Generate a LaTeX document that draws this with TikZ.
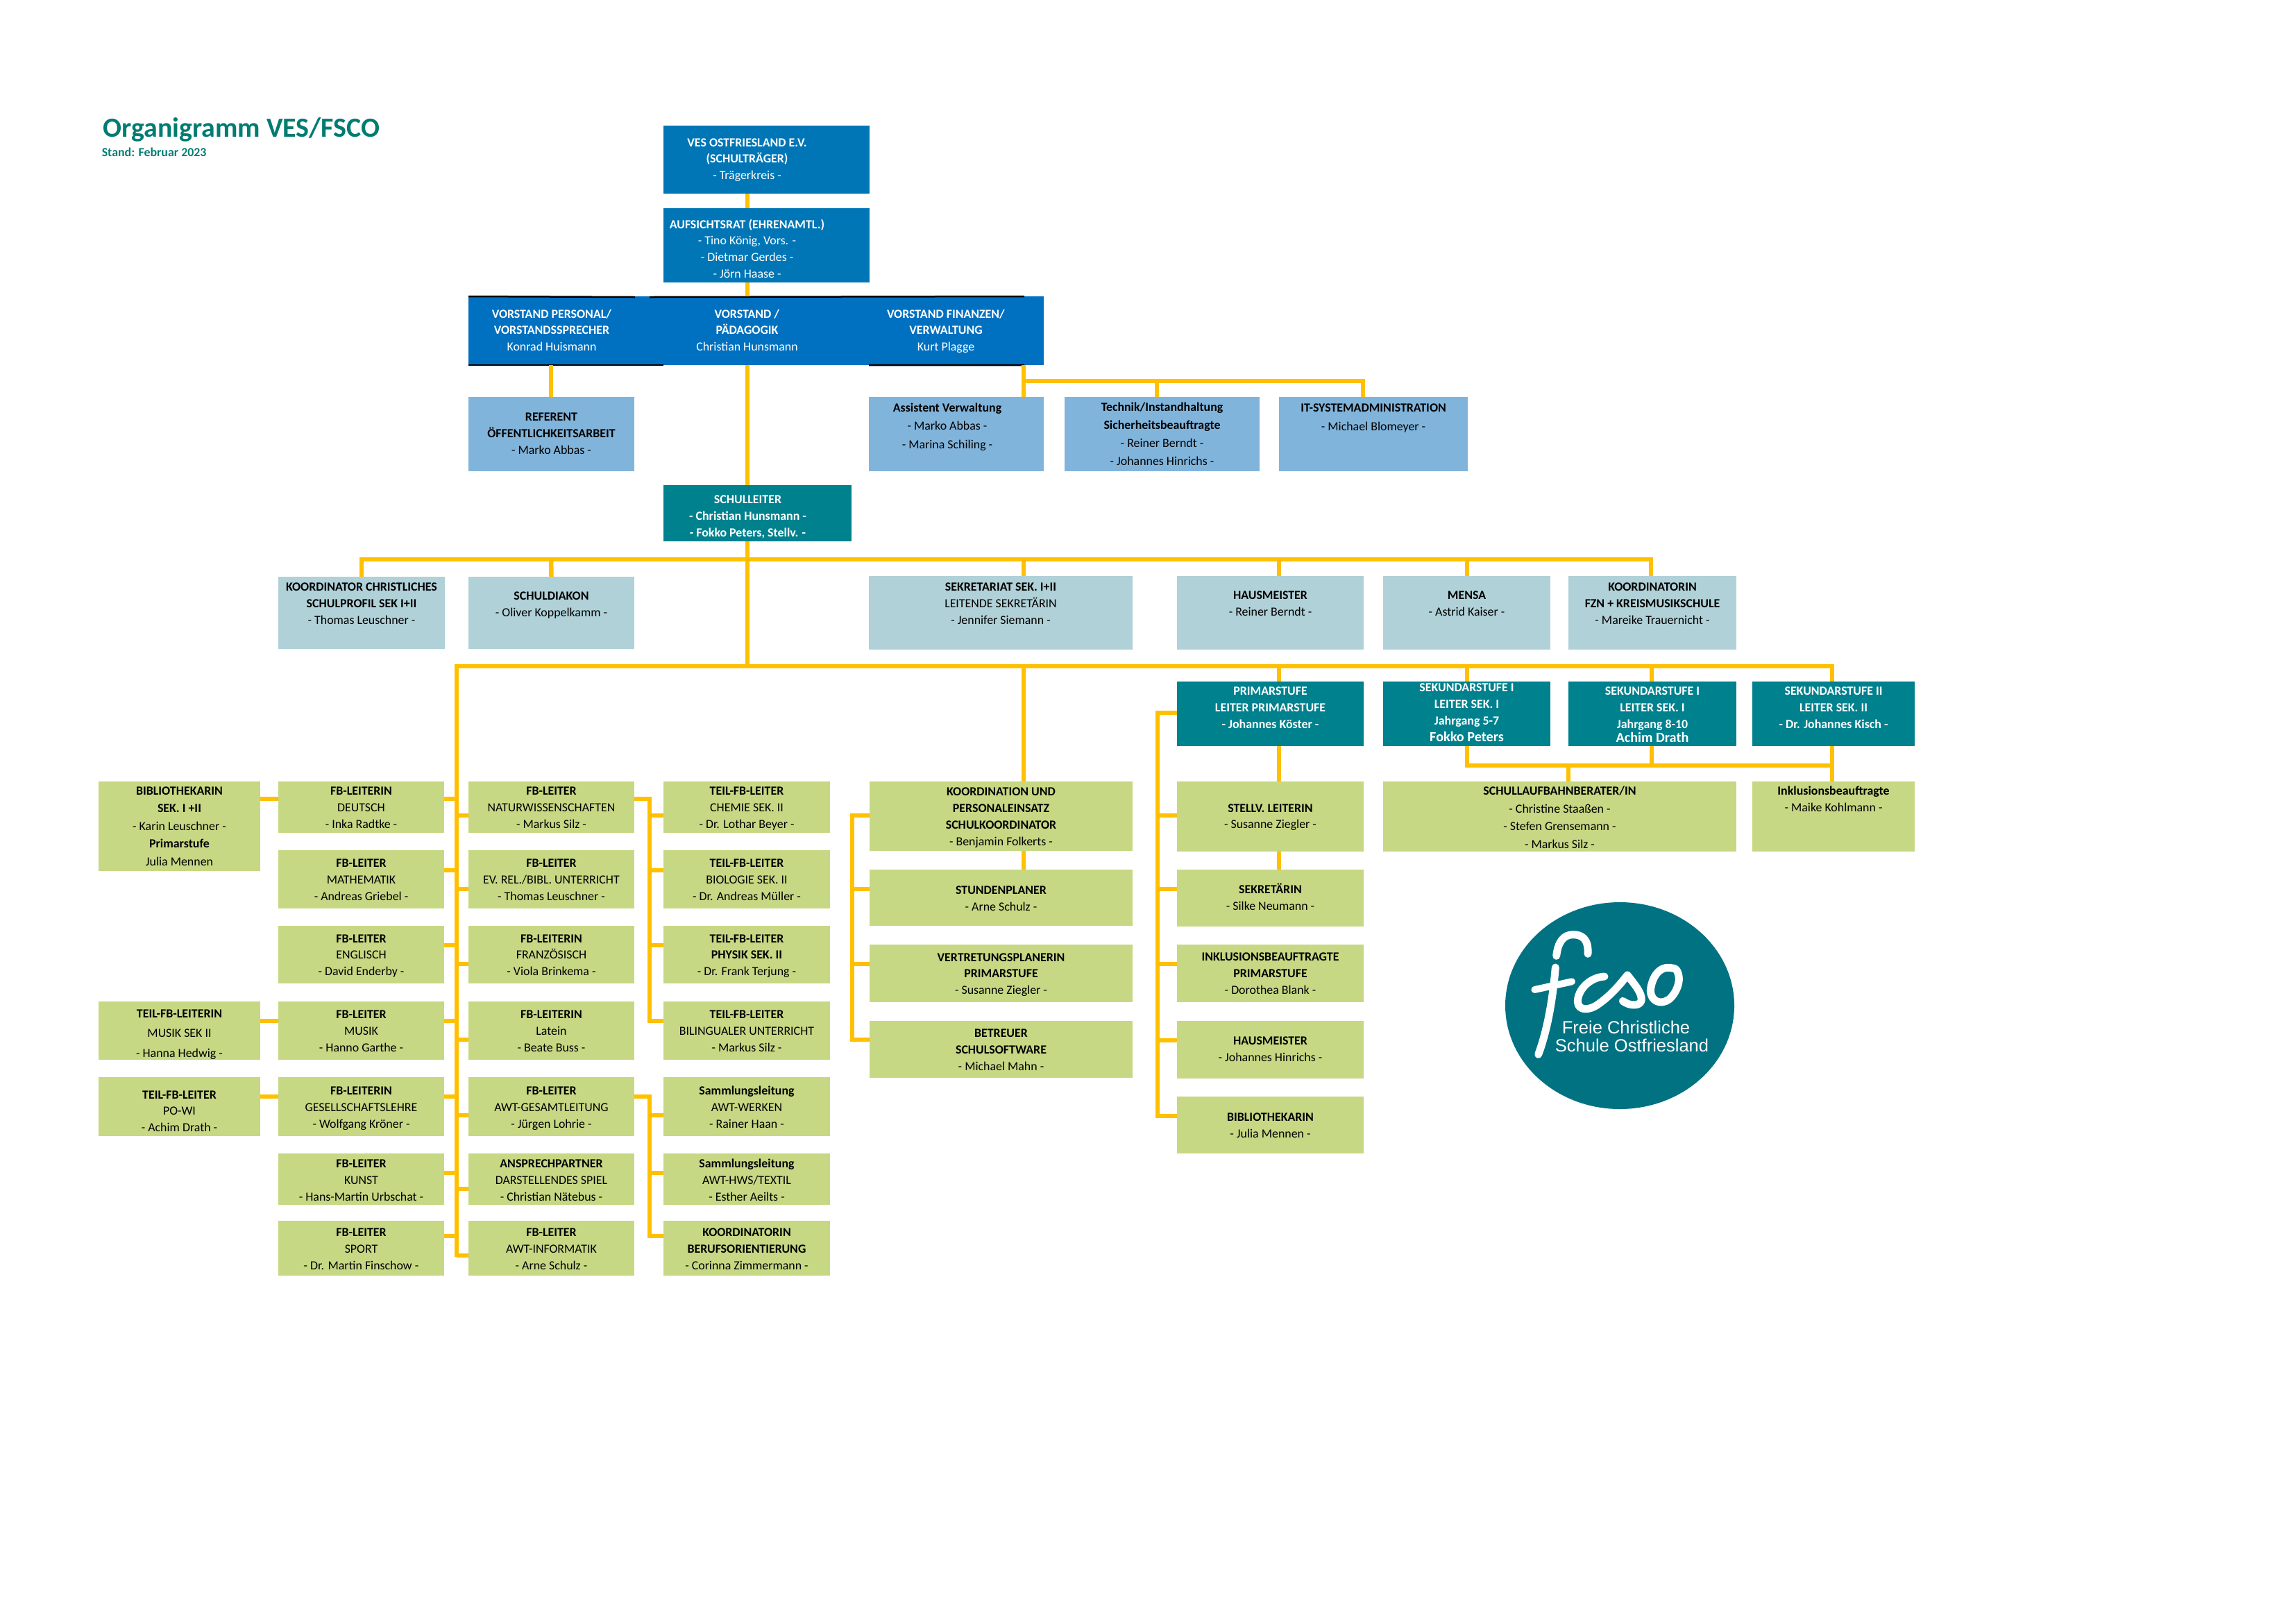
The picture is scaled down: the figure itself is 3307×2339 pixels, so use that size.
\documentclass[tikz,border=0pt]{standalone}
\usepackage{fontspec}
\usetikzlibrary{shapes.geometric}
\setmainfont{Carlito}
\newfontfamily\logofont{Liberation Sans}
\newlength\upx \setlength\upx{0.25462pt}
\definecolor{vesblue}{HTML}{0076B6}
\definecolor{vorblue}{HTML}{0070C0}
\definecolor{teal}{HTML}{00818E}
\definecolor{lblue}{HTML}{81B4DB}
\definecolor{pale}{HTML}{B0D1D8}
\definecolor{lgreen}{HTML}{C6D883}
\definecolor{connc}{HTML}{FFC000}
\definecolor{titlec}{HTML}{007C72}
\definecolor{logoc}{HTML}{007282}
\tikzset{
 boxves/.style={fill=vesblue,text=white},
 boxvor/.style={fill=vorblue,text=white},
 boxteal/.style={fill=teal,text=white},
 boxlb/.style={fill=lblue,text=black},
 boxpale/.style={fill=pale,text=black},
 boxgreen/.style={fill=lgreen,text=black},
 conn/.style={draw=connc,line width=6.5*0.25462pt},
 blackedge/.style={draw=black,line width=2.5*0.25462pt},
 logostroke/.style={draw=white,line cap=round,line join=round,line width=11*0.25462pt},
}
\def\bxgeom#1,#2,#3,#4;{\def\xa{#1}\def\ya{#2}\def\xb{#3}\def\yb{#4}}
\def\bxtext#1,#2;{\def\bfirst{#1}\def\bskip{#2}}
\def\fs{4.55}
% \bx[text x offset]{name}{style}{x1,y1,x2,y2}{first baseline,line distance}{lines}
\newcommand\bx[6][0]{%
 \bxgeom#4;\bxtext#5;%
 \node[#3,anchor=north west,inner sep=0pt,outer sep=0pt] (#2) at (\xa,\ya) {%
  \vbox to \dimexpr\yb\upx-\ya\upx\relax{%
   \hsize=\dimexpr\xb\upx-\xa\upx\relax
   \parindent=0pt \parskip=0pt \lineskiplimit=-100pt \lineskip=0pt
   \fontsize{\fs}{6}\selectfont
   \baselineskip=\bskip\upx
   \centering
   \leftskip=\dimexpr 2\dimexpr#1\upx\relax\relax plus 1fil
   \kern\dimexpr\bfirst\upx-\ya\upx-\dimexpr\bskip\upx\relax*7/10\relax
   \rule[\dimexpr-\dimexpr\bskip\upx\relax*3/10\relax]{0pt}{\bskip\upx}#6\par
   \vss}};}
\newcommand\B[1]{\textbf{#1}}
\newcommand\hs[3]{\draw[conn] (#1.east |- 0,#3) -- (#2.west |- 0,#3);}
\newcommand\vs[3]{\draw[conn] (#3,0 |- #1.south) -- (#3,0 |- #2.north);}
\begin{document}
\begin{tikzpicture}[x=0.25462pt,y=-0.25462pt]
\useasboundingbox (0,0) rectangle (3307,2339);
% title
\node[anchor=base west,inner sep=0pt,text=titlec,font=\fontsize{10.15}{12}\selectfont\bfseries] (title) at (148,197) {Organigramm VES/FSCO};
\node[anchor=base west,inner sep=0pt,text=titlec,font=\fontsize{4.55}{6}\selectfont\bfseries] (stand) at (146,225) {Stand: Februar 2023};
% top
\bx[-28]{ves}{boxves}{956,181,1253,279}{211,23.6}{\B{VES OSTFRIESLAND E.V.}\\\B{(SCHULTRÄGER)}\\- Trägerkreis -}
\bx[-28]{ar}{boxves}{956,300,1253,407}{329,23.8}{\B{AUFSICHTSRAT (EHRENAMTL.)}\\- Tino König, Vors. -\\- Dietmar Gerdes -\\- Jörn Haase -}
\bx[-21]{vp}{boxvor}{675,427,957,526}{458,23.5}{\B{VORSTAND PERSONAL/}\\\B{VORSTANDSSPRECHER}\\Konrad Huismann}
\bx[-28]{vd}{boxvor}{956,427,1253,526}{458,23.5}{\B{VORSTAND /}\\\B{PÄDAGOGIK}\\Christian Hunsmann}
\bx[-15]{vf}{boxvor}{1252,427,1504,526}{458,23.5}{\B{VORSTAND FINANZEN/}\\\B{VERWALTUNG}\\Kurt Plagge}
\bx{ref}{boxlb}{675,572,914,679}{606.5,24}{\B{REFERENT}\\\B{ÖFFENTLICHKEITSARBEIT}\\- Marko Abbas -}
\bx[-13]{asst}{boxlb}{1252,572,1504,679}{593,26.5}{\B{Assistent Verwaltung}\\- Marko Abbas -\\- Marina Schiling -}
\bx{tech}{boxlb}{1534,572,1815,679}{592,26.3}{\B{Technik/Instandhaltung}\\\B{Sicherheitsbeauftragte}\\- Reiner Berndt -\\- Johannes Hinrichs -}
\bx{its}{boxlb}{1843,572,2115,679}{593,27.5}{\B{IT-SYSTEMADMINISTRATION}\\- Michael Blomeyer -}
\bx[-14]{sl}{boxteal}{956,699,1227,780}{725,24}{\B{SCHULLEITER}\\\B{- Christian Hunsmann -}\\\B{- Fokko Peters, Stellv. -}}
% row 2
\bx{kc}{boxpale}{401,831,641,935}{851,24}{\B{KOORDINATOR CHRISTLICHES}\\\B{SCHULPROFIL SEK I+II}\\- Thomas Leuschner -}
\bx{sd}{boxpale}{675,831,914,935}{864,24}{\B{SCHULDIAKON}\\- Oliver Koppelkamm -}
\bx{sek}{boxpale}{1252,830,1632,936}{851,24}{\B{SEKRETARIAT SEK. I+II}\\LEITENDE SEKRETÄRIN\\- Jennifer Siemann -}
\bx{hm}{boxpale}{1696,830,1965,936}{863,24.5}{\B{HAUSMEISTER}\\- Reiner Berndt -}
\bx{me}{boxpale}{1993,830,2234,936}{863,24.5}{\B{MENSA}\\- Astrid Kaiser -}
\bx{fzn}{boxpale}{2260,830,2502,936}{851,24}{\B{KOORDINATORIN}\\\B{FZN + KREISMUSIKSCHULE}\\- Mareike Trauernicht -}
% school levels
\bx{pr}{boxteal}{1696,982,1965,1075}{1001,24}{\B{PRIMARSTUFE}\\\B{LEITER PRIMARSTUFE}\\\B{- Johannes Köster -}}
\bx{sa}{boxteal}{1993,982,2234,1075}{996,24}{\B{SEKUNDARSTUFE I}\\\B{LEITER SEK. I}\\\B{Jahrgang 5-7}\\{\fontsize{5.15}{6}\selectfont\B{Fokko Peters}}}
\bx{sb}{boxteal}{2260,982,2502,1075}{1001,24}{\B{SEKUNDARSTUFE I}\\\B{LEITER SEK. I}\\\B{Jahrgang 8-10}\\[-4\upx]{\fontsize{5.15}{6}\selectfont\B{Achim Drath}}}
\bx{sc}{boxteal}{2525,982,2759,1075}{1001,24}{\B{SEKUNDARSTUFE II}\\\B{LEITER SEK. II}\\\B{- Dr. Johannes Kisch -}}
% col A
\bx{biblioA}{boxgreen}{142,1126,375,1255}{1145,25.5}{\B{BIBLIOTHEKARIN}\\\B{SEK. I +II}\\- Karin Leuschner -\\\B{Primarstufe}\\Julia Mennen}
\bx{teilmu}{boxgreen}{142,1443,375,1527}{1466,28.5}{\B{TEIL-FB-LEITERIN}\\MUSIK SEK II\\- Hanna Hedwig -}
\bx{teilpo}{boxgreen}{142,1552,375,1637}{1583,23.5}{\B{TEIL-FB-LEITER}\\PO-WI\\- Achim Drath -}
% col B
\bx{b1}{boxgreen}{401,1126,640,1200}{1145,24}{\B{FB-LEITERIN}\\DEUTSCH\\- Inka Radtke -}
\bx{b2}{boxgreen}{401,1225,640,1309}{1249,24}{\B{FB-LEITER}\\MATHEMATIK\\- Andreas Griebel -}
\bx{b3}{boxgreen}{401,1334,640,1417}{1358,23.5}{\B{FB-LEITER}\\ENGLISCH\\- David Enderby -}
\bx{b4}{boxgreen}{401,1443,640,1527}{1467,24}{\B{FB-LEITER}\\MUSIK\\- Hanno Garthe -}
\bx{b5}{boxgreen}{401,1552,640,1637}{1577,24}{\B{FB-LEITERIN}\\GESELLSCHAFTSLEHRE\\- Wolfgang Kröner -}
\bx{b6}{boxgreen}{401,1662,640,1736}{1682,24}{\B{FB-LEITER}\\KUNST\\- Hans-Martin Urbschat -}
\bx{b7}{boxgreen}{401,1759,640,1838}{1781,24}{\B{FB-LEITER}\\SPORT\\- Dr. Martin Finschow -}
% col C
\bx{c1}{boxgreen}{675,1126,914,1200}{1145,24}{\B{FB-LEITER}\\NATURWISSENSCHAFTEN\\- Markus Silz -}
\bx{c2}{boxgreen}{675,1225,914,1309}{1249,24}{\B{FB-LEITER}\\EV. REL./BIBL. UNTERRICHT\\- Thomas Leuschner -}
\bx{c3}{boxgreen}{675,1334,914,1417}{1358,23.5}{\B{FB-LEITERIN}\\FRANZÖSISCH\\- Viola Brinkema -}
\bx{c4}{boxgreen}{675,1443,914,1527}{1467,24}{\B{FB-LEITERIN}\\Latein\\- Beate Buss -}
\bx{c5}{boxgreen}{675,1552,914,1637}{1577,24}{\B{FB-LEITER}\\AWT-GESAMTLEITUNG\\- Jürgen Lohrie -}
\bx{c6}{boxgreen}{675,1662,914,1736}{1682,24}{\B{ANSPRECHPARTNER}\\DARSTELLENDES SPIEL\\- Christian Nätebus -}
\bx{c7}{boxgreen}{675,1759,914,1838}{1781,24}{\B{FB-LEITER}\\AWT-INFORMATIK\\- Arne Schulz -}
% col D
\bx{d1}{boxgreen}{956,1126,1196,1200}{1145,24}{\B{TEIL-FB-LEITER}\\CHEMIE SEK. II\\- Dr. Lothar Beyer -}
\bx{d2}{boxgreen}{956,1225,1196,1309}{1249,24}{\B{TEIL-FB-LEITER}\\BIOLOGIE SEK. II\\- Dr. Andreas Müller -}
\bx{d3}{boxgreen}{956,1334,1196,1417}{1358,23.5}{\B{TEIL-FB-LEITER}\\\B{PHYSIK SEK. II}\\- Dr. Frank Terjung -}
\bx{d4}{boxgreen}{956,1443,1196,1527}{1467,24}{\B{TEIL-FB-LEITER}\\BILINGUALER UNTERRICHT\\- Markus Silz -}
\bx{d5}{boxgreen}{956,1552,1196,1637}{1577,24}{\B{Sammlungsleitung}\\AWT-WERKEN\\- Rainer Haan -}
\bx{d6}{boxgreen}{956,1662,1196,1736}{1682,24}{\B{Sammlungsleitung}\\AWT-HWS/TEXTIL\\- Esther Aeilts -}
\bx{d7}{boxgreen}{956,1759,1196,1838}{1781,24}{\B{KOORDINATORIN}\\\B{BERUFSORIENTIERUNG}\\- Corinna Zimmermann -}
% col E
\bx{e1}{boxgreen}{1253,1126,1632,1226}{1146,24}{\B{KOORDINATION UND}\\\B{PERSONALEINSATZ}\\\B{SCHULKOORDINATOR}\\- Benjamin Folkerts -}
\bx{e2}{boxgreen}{1253,1253,1632,1334}{1288,24}{\B{STUNDENPLANER}\\- Arne Schulz -}
\bx{e3}{boxgreen}{1253,1361,1632,1444}{1385,23.5}{\B{VERTRETUNGSPLANERIN}\\\B{PRIMARSTUFE}\\- Susanne Ziegler -}
\bx{e4}{boxgreen}{1253,1471,1632,1553}{1494,24}{\B{BETREUER}\\\B{SCHULSOFTWARE}\\- Michael Mahn -}
% col F
\bx{f1}{boxgreen}{1696,1126,1965,1227}{1170,23.5}{\B{STELLV. LEITERIN}\\- Susanne Ziegler -}
\bx{f2}{boxgreen}{1696,1253,1965,1335}{1287,24.5}{\B{SEKRETÄRIN}\\- Silke Neumann -}
\bx{f3}{boxgreen}{1696,1361,1965,1444}{1384,24}{\B{INKLUSIONSBEAUFTRAGTE}\\\B{PRIMARSTUFE}\\- Dorothea Blank -}
\bx{f4}{boxgreen}{1696,1471,1965,1554}{1505,24.5}{\B{HAUSMEISTER}\\- Johannes Hinrichs -}
\bx{f5}{boxgreen}{1696,1580,1965,1662}{1615,24}{\B{BIBLIOTHEKARIN}\\- Julia Mennen -}
\bx{sab}{boxgreen}{1993,1126,2502,1227}{1145.5,25.5}{\B{SCHULLAUFBAHNBERATER/IN}\\- Christine Staaßen -\\- Stefen Grensemann -\\- Markus Silz -}
\bx{ink}{boxgreen}{2525,1126,2759,1227}{1145.5,24}{\B{Inklusionsbeauftragte}\\- Maike Kohlmann -}
% black edges of the Vorstand band
\draw[blackedge] (vp.north west) -- (915,428);
\draw[blackedge] (936,428) -- (vf.north west -| 1476,0);
\draw[blackedge] (vp.south west) -- (vd.south west);
\draw[blackedge] (vf.south west) -- (1476,526);
% junction coordinates
\coordinate (busA) at (521,806);
\coordinate (busB) at (658,960);
\coordinate (brCD1) at (936,1151);
\coordinate (brCD2) at (936,1580);
\coordinate (brE) at (1228,1175);
\coordinate (brF) at (1668,1027);
% connectors top
\vs{ves}{ar}{1077}
\vs{ar}{vd}{1077}
\vs{vd}{sl}{1077}
\vs{vp}{ref}{794}
\draw[conn] (1475,0 |- vf.south) -- (1475,0 |- asst.north);
\draw[conn] (1475,549) -| (1964,0 |- its.north);
\draw[conn] (1667,549) -- (1667,0 |- tech.north);
% bus 1
\draw[conn] (1077,0 |- sl.south) -- (1077,960);
\draw[conn] (kc.north) |- (busA) -- (2379,806) -- (fzn.north -| 2379,0);
\draw[conn] (794,806) -- (sd.north);
\draw[conn] (1475,806) -- (1475,0 |- sek.north);
\draw[conn] (1843,806) -- (1843,0 |- hm.north);
\draw[conn] (2114,806) -- (me.north -| 2114,0);
% bus 2
\draw[conn] (658,1811) -- (busB) -- (2640,960) -- (2640,0 |- sc.north);
\draw[conn] (1475,960) -- (1475,0 |- e1.north);
\draw[conn] (1843,960) -- (1843,0 |- pr.north);
\draw[conn] (2114,960) -- (2114,0 |- sa.north);
\draw[conn] (2380,960) -- (2380,0 |- sb.north);
% left side stubs
\hs{biblioA}{b1}{1151}
\hs{teilmu}{b4}{1471}
\hs{teilpo}{b5}{1580}
\foreach \n/\y in {b1/1151,b2/1254,b3/1362,b4/1471,b5/1580,b6/1690,b7/1781}
 \draw[conn] (\n.east |- 0,\y) -- (busB |- 0,\y);
\foreach \n/\y in {c1/1175,c2/1281,c3/1389,c4/1498,c5/1607,c6/1713,c7/1809}
 \draw[conn] (busB |- 0,\y) -- (\n.west |- 0,\y);
% C - D brackets
\draw[conn] (c1.east |- brCD1) -- (brCD1) |- (d4.west |- 0,1471);
\foreach \n/\y in {d1/1175,d2/1254,d3/1362}
 \draw[conn] (brCD1 |- 0,\y) -- (\n.west |- 0,\y);
\draw[conn] (c5.east |- brCD2) -- (brCD2) |- (d7.west |- 0,1781);
\foreach \n/\y in {d5/1607,d6/1690}
 \draw[conn] (brCD2 |- 0,\y) -- (\n.west |- 0,\y);
% E
\draw[conn] (e1.west |- brE) -- (brE) |- (e4.west |- 0,1498);
\foreach \n/\y in {e2/1281,e3/1389}
 \draw[conn] (brE |- 0,\y) -- (\n.west |- 0,\y);
\vs{e1}{e2}{1475}
% F
\draw[conn] (pr.west |- brF) -- (brF) |- (f5.west |- 0,1608);
\foreach \n/\y in {f1/1175,f2/1281,f3/1389,f4/1499}
 \draw[conn] (brF |- 0,\y) -- (\n.west |- 0,\y);
\vs{pr}{f1}{1843}
\vs{f1}{f2}{1843}
% Sek lower bus
\draw[conn] (2114,0 |- sa.south) |- (2640,1103) -- (2640,0 |- ink.north);
\draw[conn] (2640,0 |- sc.south) -- (2640,1103);
\draw[conn] (2380,0 |- sb.south) -- (2380,1103);
\draw[conn] (2260,1103) -- (2260,0 |- sab.north);
% logo
\node[ellipse,fill=logoc,inner sep=0pt,minimum width=330*0.25462pt,minimum height=298*0.25462pt] (logo) at (2334,1449) {};
\begin{scope}[shift={(2150,1280)},x=0.08487pt,y=-0.08487pt]
 \draw[logostroke] (414,283) .. controls (418,215) and (385,200) .. (350,200) .. controls (310,200) and (285,230) .. (278,292);
 \draw[logostroke] (274,342) .. controls (262,480) and (240,610) .. (200,718);
 \draw[logostroke,line width=10*0.25462pt] (184,438) -- (345,403);
 \draw[logostroke] (486,381) .. controls (420,385) and (370,440) .. (370,490) .. controls (372,530) and (420,530) .. (460,500) .. controls (510,465) and (550,420) .. (585,375) .. controls (620,420) and (650,455) .. (645,485) .. controls (640,510) and (595,510) .. (565,487);
 \draw[logostroke] (780,345) .. controls (720,330) and (690,390) .. (685,440) .. controls (685,490) and (730,505) .. (765,480) .. controls (800,450) and (815,400) .. (805,370) .. controls (800,350) and (790,345) .. (780,345);
\end{scope}
\node[anchor=base west,inner sep=0pt,text=white,font=\logofont\fontsize{6.5}{7}\selectfont] (logoa) at (2250,1489) {Freie Christliche};
\node[anchor=base west,inner sep=0pt,text=white,font=\logofont\fontsize{6.5}{7}\selectfont] (logob) at (2240,1515) {Schule Ostfriesland};
\end{tikzpicture}
\end{document}
